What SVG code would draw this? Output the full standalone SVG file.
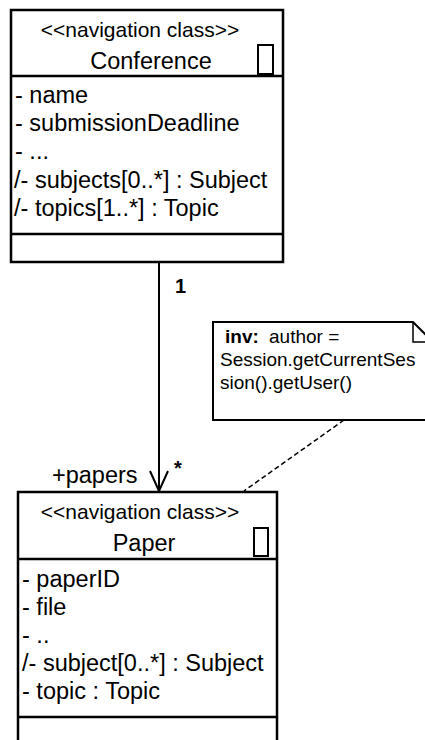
<svg xmlns="http://www.w3.org/2000/svg" width="425" height="740" viewBox="0 0 425 740">
  <style>
    .box { fill: #ffffff; stroke: #000000; stroke-width: 2.5; }
    .sep { stroke: #000000; stroke-width: 2.5; }
    .icon { fill: none; stroke: #000000; stroke-width: 2; }
    text { font-family: "Liberation Sans", Arial, sans-serif; fill: #000000; }
    .st { font-size: 21px; text-anchor: middle; }
    .nm { font-size: 23.5px; text-anchor: middle; }
    .at { font-size: 23.5px; }
    .nt { font-size: 19px; }
    .lbl { font-size: 20px; font-weight: bold; }
    .assoc { stroke: #000000; stroke-width: 2; fill: none; }
    .anchor { stroke: #000000; stroke-width: 1.5; fill: none; stroke-dasharray: 5 3; }
    .note { fill: #ffffff; stroke: #000000; stroke-width: 2; }
  </style>
  <rect width="425" height="740" fill="#ffffff"/>

  <!-- connectors -->
  <g id="connectors">
    <line class="assoc" x1="159" y1="262" x2="159" y2="491"/>
    <path d="M150,471 L159,491 L168,471" class="assoc"/>
    <line class="anchor" x1="344" y1="420" x2="244" y2="491"/>
    <text class="lbl" x="175" y="293">1</text>
    <text class="lbl" x="174" y="475">*</text>
    <text class="at" x="52" y="483">+papers</text>
  </g>

  <!-- Conference class -->
  <g id="conference">
    <rect class="box" x="11" y="10" width="272" height="252"/>
    <line class="sep" x1="11" y1="76" x2="283" y2="76"/>
    <line class="sep" x1="11" y1="234" x2="283" y2="234"/>
    <rect class="icon" x="258" y="45" width="15" height="29"/>
    <text class="st" x="140" y="37">&lt;&lt;navigation class&gt;&gt;</text>
    <text class="nm" x="151" y="69">Conference</text>
    <text class="at" x="15" y="103">- name</text>
    <text class="at" x="15" y="131">- submissionDeadline</text>
    <text class="at" x="15" y="159">- ...</text>
    <text class="at" x="14" y="188">/- subjects[0..*] : Subject</text>
    <text class="at" x="14" y="216">/- topics[1..*] : Topic</text>
  </g>

  <!-- OCL invariant note -->
  <g id="note">
    <path class="note" d="M213,322 L413,322 L432,341 L432,420 L213,420 Z"/>
    <path d="M413,322 L413,342 L432,342" fill="none" stroke="#000000" stroke-width="1.5"/>
    <text class="nt" x="225" y="343"><tspan font-weight="bold">inv:</tspan><tspan x="269">author =</tspan></text>
    <text class="nt" x="220" y="366">Session.getCurrentSes</text>
    <text class="nt" x="220" y="389">sion().getUser()</text>
  </g>

  <!-- Paper class -->
  <g id="paper">
    <rect class="box" x="18" y="492" width="259" height="260"/>
    <line class="sep" x1="18" y1="559" x2="277" y2="559"/>
    <line class="sep" x1="18" y1="717" x2="277" y2="717"/>
    <rect class="icon" x="254" y="528" width="14" height="28"/>
    <text class="st" x="140" y="519">&lt;&lt;navigation class&gt;&gt;</text>
    <text class="nm" x="144" y="551">Paper</text>
    <text class="at" x="22" y="587">- paperID</text>
    <text class="at" x="22" y="615">- file</text>
    <text class="at" x="22" y="643">- ..</text>
    <text class="at" x="22" y="671">/- subject[0..*] : Subject</text>
    <text class="at" x="22" y="699">- topic : Topic</text>
  </g>
</svg>
